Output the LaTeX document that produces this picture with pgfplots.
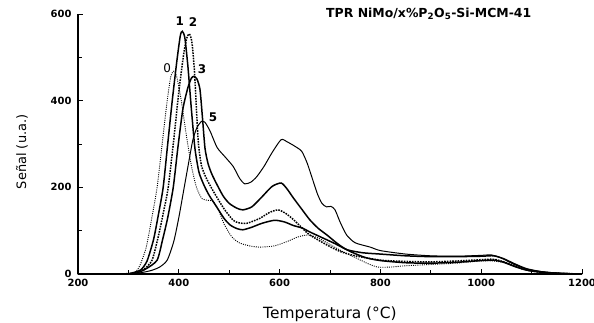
\documentclass[border=0pt]{standalone}
\usepackage{pgfplots}
\pgfplotsset{compat=1.18}
\usepackage{fontspec}
\setmainfont{DejaVu Sans}
\begin{document}
\begin{tikzpicture}
\useasboundingbox (-78bp,-49bp) rectangle (516bp,274bp);
\begin{axis}[at={(0,0)}, anchor=south west, scale only axis, width=504bp, height=260bp,
  xmin=200, xmax=1200, ymin=0, ymax=600,
  axis x line*=bottom, axis y line*=left,
  axis line style={line width=1.5pt,-},
  xtick={200,400,...,1200}, ytick={0,200,400,600},
  minor xtick={300,500,...,1100}, minor ytick={100,300,500},
  tick align=inside, major tick length=5pt, minor tick length=4pt,
  tick style={line width=1pt, black},
  /pgf/number format/assume math mode=true, /pgf/number format/1000 sep={},
  ticklabel style={font=\fontsize{10}{12}\selectfont\bfseries},
  xticklabel style={yshift=-2bp},
  yticklabel style={xshift=-3bp},
  xlabel={Temperatura (\textdegree C)}, ylabel={Señal (u.a.)},
  xlabel style={font=\fontsize{15.5}{18}\selectfont, at={(axis description cs:0.5,0)}, anchor=center, yshift=-40bp},
  ylabel style={font=\fontsize{13}{15}\selectfont, at={(axis description cs:0,0.47)}, anchor=center, yshift=56bp},
  clip=false,
]
% curve 0
\addplot[black, line width=0.9pt, dash pattern=on 1pt off 1.2pt, smooth, tension=0.4] coordinates {
(200,0)(280,0)(300,2)(315,6)(323,20)(335,60)(345,120)(357,200)(367,300)(377,400)(384,455)(390,468)(396,455)(405,400)(415,320)(425,250)(435,200)(446,174)(458,170)(468,168)(478,150)(490,115)(505,86)(520,72)(540,65)(561,62)(590,65)(615,75)(635,85)(655,90)(675,84)(700,68)(725,52)(750,38)(775,24)(795,16)(820,16)(850,19)(900,22)(950,25)(1000,30)(1025,30)(1045,26)(1065,18)(1085,10)(1110,5)(1150,2)(1200,1)};
% curve 1
\addplot[black, line width=1.5pt, smooth, tension=0.4] coordinates {
(200,0)(290,0)(310,3)(325,10)(337,30)(350,80)(360,140)(369,200)(378,300)(387,400)(396,490)(403,550)(407,560)(412,545)(418,480)(425,380)(432,290)(440,235)(450,205)(460,182)(475,155)(490,128)(502,113)(515,105)(527,102)(545,108)(565,117)(590,124)(610,120)(627,112)(645,106)(660,97)(686,83)(710,70)(740,52)(770,38)(800,31)(850,26)(900,25)(950,27)(1000,31)(1025,32)(1045,27)(1065,18)(1090,9)(1120,4)(1160,1)(1200,0)};
% curve 2
\addplot[black, line width=1.5pt, dash pattern=on 1.6pt off 1.1pt, smooth, tension=0.4] coordinates {
(200,0)(295,0)(315,3)(330,10)(347,32)(360,90)(370,145)(379,200)(390,310)(400,420)(410,510)(416,545)(421,554)(426,535)(431,470)(435,380)(439,300)(445,250)(455,220)(470,188)(490,150)(508,124)(520,118)(535,117)(560,128)(580,142)(597,148)(612,140)(627,126)(645,106)(660,90)(694,67)(720,52)(750,42)(800,32)(850,29)(900,28)(950,30)(1000,33)(1025,34)(1045,28)(1065,19)(1090,9)(1120,4)(1160,1)(1200,0)};
% curve 3
\addplot[black, line width=1.5pt, smooth, tension=0.4] coordinates {
(200,0)(300,0)(318,3)(335,12)(357,32)(368,80)(378,130)(389,200)(398,290)(408,380)(418,430)(425,452)(430,456)(436,450)(442,426)(447,360)(452,290)(458,255)(465,232)(475,208)(488,180)(500,163)(515,152)(527,148)(545,155)(565,178)(585,202)(603,210)(615,196)(627,176)(645,148)(660,125)(677,105)(694,90)(715,70)(734,56)(765,49)(800,46)(850,42)(900,40)(950,40)(1000,41)(1025,42)(1045,35)(1065,24)(1090,12)(1120,5)(1160,1)(1200,0)};
% curve 5
\addplot[black, line width=1.0pt, smooth, tension=0.4] coordinates {
(200,0)(305,0)(325,3)(345,8)(362,16)(377,32)(390,75)(400,130)(410,195)(420,260)(428,310)(436,338)(445,352)(452,350)(462,330)(476,292)(492,270)(508,248)(521,220)(531,208)(543,212)(555,225)(570,250)(585,280)(603,310)(615,305)(630,295)(644,283)(655,255)(665,220)(675,185)(684,163)(693,155)(702,156)(710,148)(720,120)(733,90)(750,72)(780,62)(800,54)(850,46)(900,42)(950,41)(1000,43)(1020,44)(1040,37)(1060,25)(1080,15)(1100,9)(1130,4)(1160,2)(1200,0)};
\node[font=\fontsize{12}{14}\selectfont] at (axis cs:377,475) {0};
\node[font=\fontsize{12}{14}\selectfont\bfseries] at (axis cs:402,584) {1};
\node[font=\fontsize{12}{14}\selectfont\bfseries] at (axis cs:428,581) {2};
\node[font=\fontsize{12}{14}\selectfont\bfseries] at (axis cs:446,473) {3};
\node[font=\fontsize{12}{14}\selectfont\bfseries] at (axis cs:468,361) {5};
\node[font=\fontsize{12.5}{14}\selectfont\bfseries] at (rel axis cs:0.696,1.0) {TPR NiMo/x\%P\textsubscript{2}O\textsubscript{5}-Si-MCM-41};
\end{axis}
\end{tikzpicture}
\end{document}
